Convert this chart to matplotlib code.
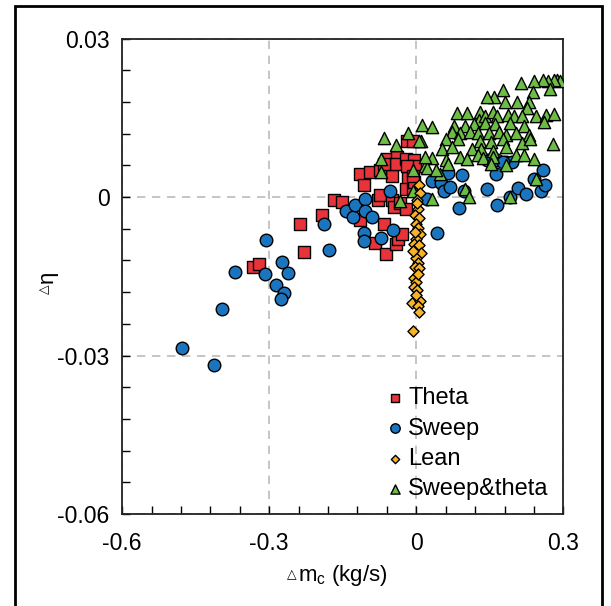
import matplotlib
matplotlib.use('Agg')
import matplotlib.pyplot as plt
from matplotlib.patches import Rectangle

plt.rcParams['font.family'] = ['Liberation Sans', 'DejaVu Sans']

# values
theta_x = [-0.334, -0.320, -0.237, -0.229, -0.193, -0.167, -0.152, -0.114, -0.107, -0.095,
           -0.114, -0.084, -0.079, -0.074, -0.066, -0.062, -0.060, -0.050, -0.050, -0.046,
           -0.040, -0.042, -0.041, -0.037, -0.030, -0.034, -0.020, -0.022, -0.018, -0.006,
           -0.005, -0.002, -0.016, -0.022, -0.006, -0.005, -0.018, -0.074, -0.066, -0.006]
theta_y = [-0.0132, -0.0126, -0.0050, -0.0104, -0.0034, -0.0005, -0.0010, 0.0043, 0.0023, 0.0048,
           -0.0044, -0.0086, -0.0005, 0.0004, -0.0051, -0.0108, 0.0072, 0.0040, -0.0005, -0.0018,
           0.0077, 0.0062, -0.0088, -0.0080, -0.0070, -0.0011, -0.0022, 0.0073, 0.0106, 0.0106,
           0.0070, 0.0059, 0.0037, 0.0015, 0.0015, 0.0029, 0.0059, 0.0051, 0.0062, 0.0040]

sweep_x = [-0.479, -0.413, -0.396, -0.370, -0.306, -0.308, -0.287, -0.273, -0.262, -0.269,
           -0.277, -0.189, -0.179, -0.143, -0.130, -0.126, -0.104, -0.104, -0.090, -0.106,
           -0.106, -0.072, -0.054, -0.048, 0.033, 0.043, 0.051, 0.057, 0.064, 0.069,
           0.087, 0.093, 0.097, 0.021, 0.145, 0.162, 0.165, 0.145, 0.165, 0.184,
           0.196, 0.192, 0.207, 0.224, 0.240, 0.254, 0.258, 0.262, 0.176]
sweep_y = [-0.0285, -0.0318, -0.0212, -0.0141, -0.0082, -0.0145, -0.0166, -0.0122, -0.0143, -0.0181,
           -0.0192, -0.0050, -0.0100, -0.0026, -0.0037, -0.0015, -0.0004, -0.0026, -0.0038, -0.0067,
           -0.0084, -0.0077, 0.0011, -0.0062, 0.0031, -0.0067, 0.0026, 0.0011, 0.0046, 0.0020,
           -0.0020, 0.0042, 0.0011, -0.0004, 0.0015, 0.0044, -0.0015, 0.0070, 0.0070, 0.0066,
           0.0067, 0.0000, 0.0018, 0.0006, 0.0035, 0.0012, 0.0051, 0.0023, 0.0067]

lean_x = [0.006, 0.008, 0.002, 0.003, -0.002, 0.006, 0.000, 0.003, 0.008, 0.000,
          -0.004, 0.006, 0.010, 0.000, 0.003, -0.002, 0.006, -0.005, 0.000, -0.004,
          0.002, -0.008, 0.008, 0.003, 0.006, -0.006, -0.002, -0.006, 0.004, -0.001, 0.001]
lean_y = [0.0023, 0.0007, -0.0005, -0.0022, -0.0033, -0.0040, -0.0051, -0.0059, -0.0070, -0.0079,
          -0.0088, -0.0091, -0.0106, -0.0116, -0.0124, -0.0132, -0.0135, -0.0154, -0.0161, -0.0170,
          -0.0176, -0.0200, -0.0196, -0.0207, -0.0218, -0.0254, -0.0066, -0.0102, -0.0146, -0.0186, -0.0012]

st_x = [0.288, 0.293, 0.280, 0.268, 0.258, 0.240, 0.214, 0.272, 0.238, 0.176,
        0.159, 0.145, 0.181, 0.206, 0.229, 0.225, 0.129, 0.083, 0.103, 0.127,
        0.141, 0.157, 0.165, 0.188, 0.200, 0.216, 0.244, 0.264, 0.281, 0.260,
        0.077, 0.099, 0.117, 0.141, 0.161, 0.192, 0.220, 0.012, 0.032, 0.073,
        0.089, 0.109, 0.125, 0.149, 0.169, 0.184, 0.204, 0.229, -0.066, -0.016,
        0.010, -0.042, 0.061, 0.086, 0.129, 0.153, 0.176, 0.216, 0.232, 0.278,
        0.053, 0.073, 0.113, 0.133, 0.157, 0.184, 0.204, 0.220, 0.240, 0.032,
        0.061, 0.089, 0.125, 0.137, 0.157, 0.017, 0.065, 0.103, -0.072, -0.072,
        -0.006, -0.034, 0.021, 0.049, 0.184, 0.153, 0.244, 0.099, 0.108, 0.192,
        0.033, -0.006, 0.006, 0.017, 0.041]
st_y = [0.0222, 0.0220, 0.0222, 0.0220, 0.0221, 0.0220, 0.0217, 0.0205, 0.0200, 0.0203,
        0.0190, 0.0189, 0.0181, 0.0181, 0.0181, 0.0168, 0.0161, 0.0159, 0.0160, 0.0146,
        0.0154, 0.0161, 0.0154, 0.0155, 0.0154, 0.0154, 0.0154, 0.0156, 0.0158, 0.0143,
        0.0135, 0.0135, 0.0139, 0.0140, 0.0139, 0.0140, 0.0135, 0.0137, 0.0132, 0.0124,
        0.0121, 0.0124, 0.0121, 0.0121, 0.0124, 0.0117, 0.0122, 0.0117, 0.0113, 0.0122,
        0.0106, 0.0099, 0.0110, 0.0111, 0.0106, 0.0104, 0.0110, 0.0102, 0.0110, 0.0101,
        0.0091, 0.0095, 0.0091, 0.0091, 0.0088, 0.0095, 0.0080, 0.0080, 0.0072, 0.0075,
        0.0070, 0.0077, 0.0080, 0.0075, 0.0077, 0.0059, 0.0062, 0.0072, 0.0072, 0.0048,
        0.0051, -0.0007, 0.0055, 0.0044, 0.0060, 0.0062, 0.0035, 0.0015, 0.0000, 0.0001,
        -0.0004, 0.0011, 0.0106, 0.0077, 0.0051]

x_ticks = [-0.6, -0.3, 0, 0.3]
x_labels = ['-0.6', '-0.3', '0', '0.3']
y_ticks = [-0.06, -0.03, 0, 0.03]
y_labels = ['-0.06', '-0.03', '0', '0.03']

fig = plt.figure(figsize=(6.11, 6.06), dpi=100)
ax = fig.add_axes([0.2, 0.152, 0.722, 0.784])

edge = dict(edgecolors='black', linewidths=1.0)
ax.scatter(theta_x, theta_y, marker='s', s=72, c='#E8333B', label='Theta', zorder=3, **edge)
ax.scatter(sweep_x, sweep_y, marker='o', s=82, c='#1B75BE', label='Sweep', zorder=3, **edge)
ax.scatter(lean_x, lean_y, marker='D', s=32, c='#F6B426', label='Lean', zorder=4, **edge)
ax.scatter(st_x, st_y, marker='^', s=78, c='#6CBD45', label='Sweep&theta', zorder=3, **edge)

ax.set_xlim(-0.6, 0.3)
ax.set_ylim(-0.06, 0.03)
ax.set_xticks(x_ticks)
ax.set_xticklabels(x_labels)
ax.set_yticks(y_ticks)
ax.set_yticklabels(y_labels)
ax.set_xticks([-0.6 + 0.06 * i for i in range(16)], minor=True)
ax.set_yticks([-0.06 + 0.006 * i for i in range(16)], minor=True)
ax.tick_params(which='both', direction='in', labelsize=16.5, top=False, right=False,
               length=6, width=1)
ax.tick_params(axis='x', pad=13)
ax.tick_params(axis='y', pad=9)

for s in ax.spines.values():
    s.set_linewidth(1.3)
    s.set_color('#222222')

ax.grid(True, which='major', linestyle=(0, (5, 4)), color='#BBBBBB', linewidth=1.2)
ax.set_axisbelow(True)

# axis labels: small triangle drawn as its own text next to the main label
ax.set_xlabel('m$_\\mathregular{c}$ (kg/s)', fontsize=16, labelpad=6)
ax.set_ylabel('\u03b7', fontsize=16, labelpad=0)

ax.legend(loc='lower right', frameon=False, fontsize=17, handletextpad=0.05,
          markerscale=0.75, labelspacing=0.35, borderaxespad=0.3, handlelength=1.0,
          bbox_to_anchor=(1.004, -0.006))

fig.canvas.draw()
renderer = fig.canvas.get_renderer()
inv = fig.transFigure.inverted()
xb = ax.xaxis.label.get_window_extent(renderer)
x0, y0 = inv.transform((xb.x0, xb.y0 + 0.55 * xb.height))
fig.text(x0 - 0.003, y0, '\u25b3', fontsize=9, ha='right', va='center',
         family=['DejaVu Sans'])
yb = ax.yaxis.label.get_window_extent(renderer)
x1, y1 = inv.transform((yb.x0 + 0.4 * yb.width, yb.y0))
fig.text(x1, y1 - 0.003, '\u25b3', fontsize=9, ha='center', va='top', rotation=90,
         family=['DejaVu Sans'])

# outer frame around the whole figure
fig.patches.append(Rectangle((0.025, -0.01), 0.96, 1.0, transform=fig.transFigure,
                             fill=False, edgecolor='black', linewidth=2))

fig.savefig('out.png', dpi=100)
